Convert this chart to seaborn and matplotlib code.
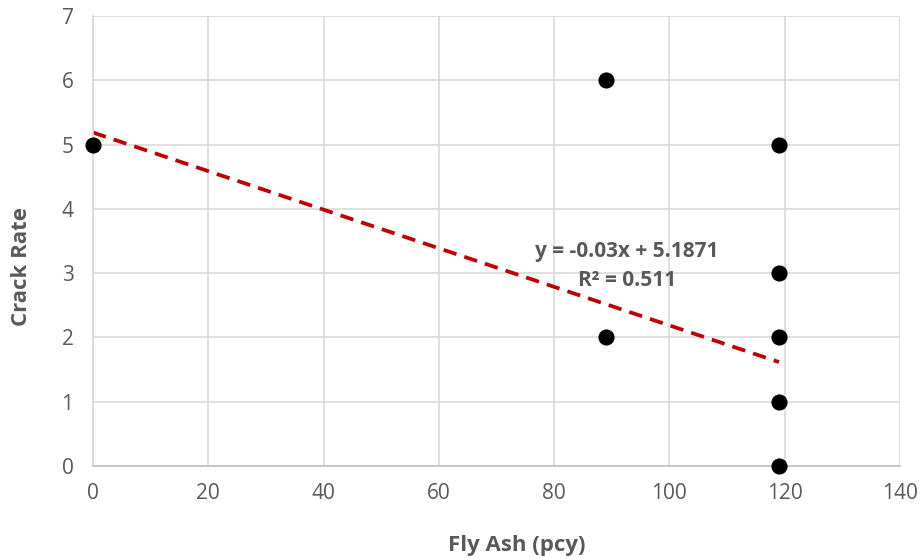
import matplotlib
matplotlib.use("Agg")
import matplotlib.pyplot as plt
import seaborn as sns
import numpy as np
import pandas as pd

fly_ash = [0, 89, 89, 119, 119, 119, 119, 119]
crack_rate = [5, 6, 2, 5, 3, 2, 1, 0]
slope = -0.03
intercept = 5.1871
r2 = 0.511
x_ticks = [0, 20, 40, 60, 80, 100, 120, 140]
y_ticks = [0, 1, 2, 3, 4, 5, 6, 7]

sns.set_theme(style="white")
plt.rcParams['font.family'] = ['Open Sans', 'DejaVu Sans']

W, H = 922, 559
fig = plt.figure(figsize=(W/100, H/100), dpi=100)
ax = fig.add_axes([93/W, 1-466/H, (900-93)/W, (466-16)/H])

df = pd.DataFrame({"x": fly_ash, "y": crack_rate})
xt = np.array([min(fly_ash), max(fly_ash)], dtype=float)
trend = pd.DataFrame({"x": xt, "y": slope * xt + intercept})
sns.lineplot(data=trend, x="x", y="y", ax=ax, color="#C00000", lw=2.7,
             linestyle=(0, (3.6, 2.2)), zorder=2)
sns.scatterplot(data=df, x="x", y="y", ax=ax, color="black", s=135,
                edgecolor="black", linewidth=0, zorder=3, clip_on=False)

ax.set_xlim(0, 140)
ax.set_ylim(0, 7)
ax.set_xticks(x_ticks)
ax.set_yticks(y_ticks)
ax.grid(True, color="#D9D9D9", lw=1.2)
ax.set_axisbelow(True)
for s in ["top", "right"]:
    ax.spines[s].set_visible(False)
ax.spines["left"].set_color("#D9D9D9")
ax.spines["left"].set_linewidth(1.2)
ax.spines["bottom"].set_color("#BFBFBF")
ax.spines["bottom"].set_linewidth(1.2)
ax.tick_params(axis="both", length=0, labelsize=15, colors="#595959")
ax.tick_params(axis="x", pad=12)
ax.tick_params(axis="y", pad=14)

ax.set_xlabel("Fly Ash (pcy)", fontsize=16, fontweight="bold", color="#595959")
ax.set_ylabel("Crack Rate", fontsize=16, fontweight="bold", color="#595959")
ax.xaxis.set_label_coords((517-93)/(900-93), -(545-466)/(466-16))
ax.yaxis.set_label_coords(-(93-21)/(900-93), (466-267)/(466-16))
ax.xaxis.label.set_verticalalignment("center")
ax.yaxis.label.set_verticalalignment("center")

ax.text(92.6, 3.34, f"y = {slope}x + {intercept}", ha="center", va="center",
        fontsize=15, fontweight="bold", color="#595959")
ax.text(92.6, 2.89, f"R² = {r2}", ha="center", va="center",
        fontsize=15, fontweight="bold", color="#595959")

fig.savefig("out.png", dpi=100)
